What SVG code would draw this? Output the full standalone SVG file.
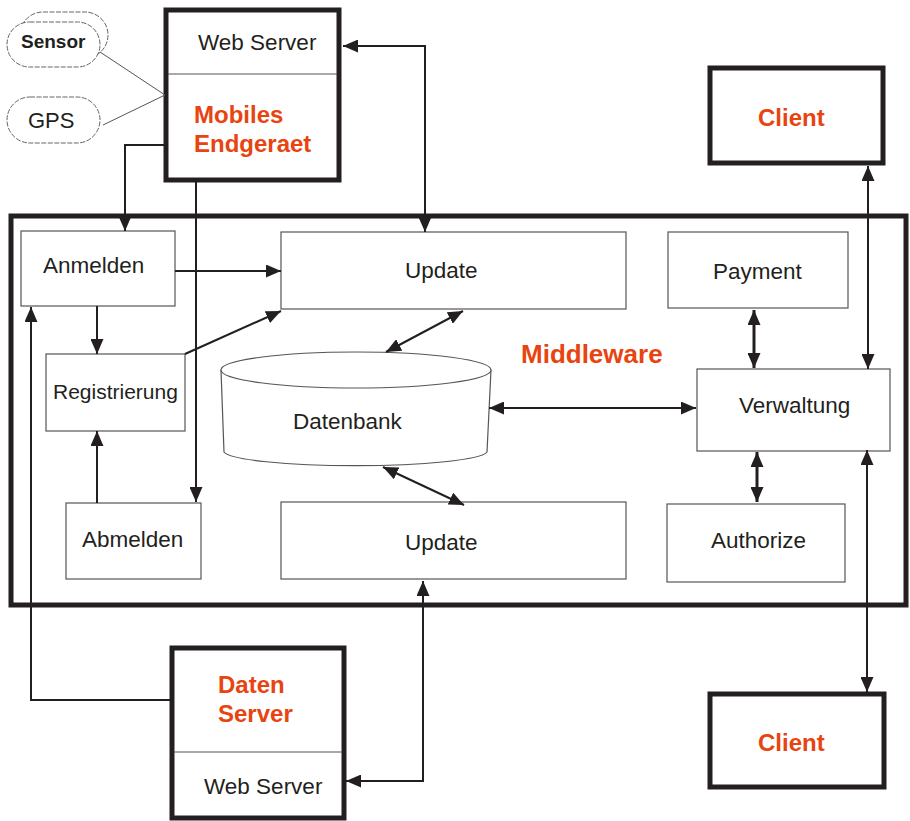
<svg xmlns="http://www.w3.org/2000/svg" width="910" height="821" viewBox="0 0 910 821">
  <style>
    .box { fill: #ffffff; stroke: #555555; stroke-width: 1.2; }
    .heavy { fill: #ffffff; stroke: #231f20; stroke-width: 5; }
    .divider { stroke: #555555; stroke-width: 1.2; }
    .lbl { font-family: "Liberation Sans", Arial, sans-serif; font-size: 22.5px; fill: #231f20; }
    .red { font-family: "Liberation Sans", Arial, sans-serif; font-weight: bold; font-size: 24px; fill: #e8440f; }
    .conn { fill: none; stroke: #231f20; stroke-width: 2; }
    .thin { fill: none; stroke: #555555; stroke-width: 1; }
    .dash { fill: #ffffff; stroke: #666666; stroke-width: 1; stroke-dasharray: 5 1.5; }
  </style>
  <defs>
    <marker id="arr" viewBox="0 0 15 13" refX="15" refY="6.5" markerWidth="15" markerHeight="13" markerUnits="userSpaceOnUse" orient="auto-start-reverse">
      <path d="M0,0 L15,6.5 L0,13 z" fill="#231f20"/>
    </marker>
  </defs>

  <rect width="910" height="821" fill="#ffffff"/>

  <!-- Middleware frame -->
  <g id="middleware">
    <rect x="11" y="216" width="895" height="389" fill="none" stroke="#231f20" stroke-width="5"/>
    <text class="red" x="521" y="363" style="font-size:26px">Middleware</text>
  </g>

  <!-- Sensor inputs -->
  <g id="sensor">
    <rect class="dash" x="20" y="12" width="88" height="46" rx="23"/>
    <rect class="dash" x="7" y="22" width="93" height="45" rx="22.5"/>
    <text x="21" y="48" style="font-family:'Liberation Sans',Arial,sans-serif;font-weight:bold;font-size:19px;fill:#231f20">Sensor</text>
  </g>
  <g id="gps">
    <rect class="dash" x="7" y="97" width="93" height="46" rx="23"/>
    <text class="lbl" x="28" y="128" style="font-size:22px">GPS</text>
  </g>

  <!-- Mobile device -->
  <g id="mobiles-endgeraet">
    <rect class="heavy" x="166" y="10" width="173" height="170"/>
    <line class="divider" x1="168" y1="74" x2="337" y2="74"/>
    <text class="lbl" x="198" y="50">Web Server</text>
    <text class="red" x="194" y="123">Mobiles</text>
    <text class="red" x="194" y="152">Endgeraet</text>
  </g>

  <!-- Clients -->
  <g id="client-top">
    <rect class="heavy" x="710" y="68" width="173" height="95"/>
    <text class="red" x="758" y="126">Client</text>
  </g>
  <g id="client-bottom">
    <rect class="heavy" x="710" y="694" width="174" height="93"/>
    <text class="red" x="758" y="751">Client</text>
  </g>

  <!-- Data server -->
  <g id="daten-server">
    <rect class="heavy" x="172" y="648" width="172" height="170"/>
    <line class="divider" x1="174" y1="752" x2="342" y2="752"/>
    <text class="red" x="218" y="693">Daten</text>
    <text class="red" x="218" y="722">Server</text>
    <text class="lbl" x="204" y="794">Web Server</text>
  </g>

  <!-- Middleware components -->
  <g id="anmelden">
    <rect class="box" x="21" y="231" width="154" height="75"/>
    <text class="lbl" x="43" y="273">Anmelden</text>
  </g>
  <g id="registrierung">
    <rect class="box" x="46" y="354" width="139" height="77"/>
    <text class="lbl" x="53" y="399" style="font-size:21px">Registrierung</text>
  </g>
  <g id="abmelden">
    <rect class="box" x="66" y="503" width="135" height="76"/>
    <text class="lbl" x="82" y="547">Abmelden</text>
  </g>
  <g id="update-top">
    <rect class="box" x="281" y="232" width="345" height="77"/>
    <text class="lbl" x="405" y="278">Update</text>
  </g>
  <g id="update-bottom">
    <rect class="box" x="281" y="502" width="345" height="77"/>
    <text class="lbl" x="405" y="550">Update</text>
  </g>
  <g id="datenbank">
    <path d="M221,370 L224,452 A132,15 0 0 0 487,452 L491,370" fill="#ffffff" stroke="#555555" stroke-width="1.2"/>
    <ellipse cx="356" cy="370" rx="135" ry="18" fill="#ffffff" stroke="#555555" stroke-width="1.2"/>
    <text class="lbl" x="293" y="429">Datenbank</text>
  </g>
  <g id="payment">
    <rect class="box" x="668" y="232" width="180" height="76"/>
    <text class="lbl" x="713" y="279">Payment</text>
  </g>
  <g id="verwaltung">
    <rect class="box" x="697" y="369" width="193" height="82"/>
    <text class="lbl" x="739" y="413">Verwaltung</text>
  </g>
  <g id="authorize">
    <rect class="box" x="667" y="504" width="178" height="78"/>
    <text class="lbl" x="711" y="548">Authorize</text>
  </g>

  <!-- Connectors -->
  <g id="connectors">
    <path class="thin" d="M100,52 L165,95 M103,125 L165,95"/>
    <path class="conn" d="M343,46 H425 V232" marker-start="url(#arr)" marker-end="url(#arr)"/>
    <path class="conn" d="M166,145 H125 V231" marker-end="url(#arr)"/>
    <path class="conn" d="M196,181 V502" marker-end="url(#arr)"/>
    <path class="conn" d="M97,306 V354" marker-end="url(#arr)"/>
    <path class="conn" d="M97,503 V431" marker-end="url(#arr)"/>
    <path class="conn" d="M175,271 H281" marker-end="url(#arr)"/>
    <path class="conn" d="M185,354 L281,311" marker-end="url(#arr)"/>
    <path class="conn" d="M463,311 L386,352" marker-start="url(#arr)" marker-end="url(#arr)"/>
    <path class="conn" d="M383,467 L464,505" marker-start="url(#arr)" marker-end="url(#arr)"/>
    <path class="conn" d="M489,408 H696" marker-start="url(#arr)" marker-end="url(#arr)"/>
    <path class="conn" d="M754,310 V368" style="stroke-width:3" marker-start="url(#arr)" marker-end="url(#arr)"/>
    <path class="conn" d="M757,452 V502" style="stroke-width:3" marker-start="url(#arr)" marker-end="url(#arr)"/>
    <path class="conn" d="M868,166 V369" marker-start="url(#arr)" marker-end="url(#arr)"/>
    <path class="conn" d="M867,450 V692" marker-start="url(#arr)" marker-end="url(#arr)"/>
    <path class="conn" d="M346,781 H423 V581" marker-start="url(#arr)" marker-end="url(#arr)"/>
    <path class="conn" d="M172,700 H31 V307" marker-end="url(#arr)"/>
  </g>
</svg>
